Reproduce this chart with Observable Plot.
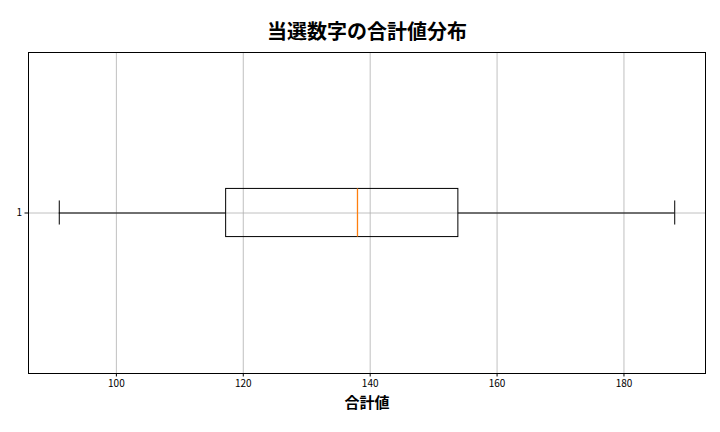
<!DOCTYPE html>
<html>
<head>
<meta charset="utf-8">
<script src="https://cdn.jsdelivr.net/npm/d3@7"></script>
<script src="https://cdn.jsdelivr.net/npm/@observablehq/plot@0.6"></script>
<style>
  html, body { margin: 0; padding: 0; background: #fff; }
</style>
</head>
<body>
<div id="chart"></div>
<script>
const title = "当選数字の合計値分布";
const xLabel = "合計値";
const categories = [1];
const categoryLabels = ["1"];
const whiskerLow = [91];
const q1 = [117.3];
const median = [138];
const q3 = [153.9];
const whiskerHigh = [188];
const xTicks = [100, 120, 140, 160, 180];

const boxes = categories.map((c, i) => ({
  cat: c, low: whiskerLow[i], q1: q1[i], med: median[i], q3: q3[i], high: whiskerHigh[i]
}));

const halfBox = 0.075;   // matplotlib default box width 0.15
const halfCap = 0.0375;

const chart = Plot.plot({
  width: 720,
  height: 432,
  marginLeft: 28,
  marginRight: 15,
  marginTop: 52,
  marginBottom: 59,
  style: { fontFamily: "'Noto Sans CJK JP', 'Noto Sans', sans-serif", background: "#fff", color: "#000" },
  x: { domain: [86.15, 192.85] },
  y: { domain: [0.5, 1.5] },
  marks: [
    Plot.gridX(xTicks, { stroke: "#b0b0b0", strokeOpacity: 1, strokeWidth: 0.8 }),
    Plot.gridY(categories, { stroke: "#b0b0b0", strokeOpacity: 1, strokeWidth: 0.8 }),
    Plot.axisX({ ticks: xTicks, tickSize: 3.5, fontSize: 10, label: null, tickPadding: 3 }),
    Plot.axisY({ ticks: categories, tickFormat: (d, i) => categoryLabels[i], tickSize: 3.5, fontSize: 10, label: null, tickPadding: 3 }),
    // whiskers
    Plot.ruleY(boxes, { y: "cat", x1: "low", x2: "q1", stroke: "black", strokeWidth: 1 }),
    Plot.ruleY(boxes, { y: "cat", x1: "q3", x2: "high", stroke: "black", strokeWidth: 1 }),
    // caps
    Plot.ruleX(boxes, { x: "low", y1: d => d.cat - halfCap, y2: d => d.cat + halfCap, stroke: "black", strokeWidth: 1 }),
    Plot.ruleX(boxes, { x: "high", y1: d => d.cat - halfCap, y2: d => d.cat + halfCap, stroke: "black", strokeWidth: 1 }),
    // box
    Plot.rect(boxes, { x1: "q1", x2: "q3", y1: d => d.cat - halfBox, y2: d => d.cat + halfBox, fill: "none", stroke: "black", strokeWidth: 1 }),
    // median
    Plot.ruleX(boxes, { x: "med", y1: d => d.cat - halfBox, y2: d => d.cat + halfBox, stroke: "#ff7f0e", strokeWidth: 1.3 }),
    Plot.frame({ stroke: "#000", strokeWidth: 1 }),
    Plot.text([title], { frameAnchor: "top", dy: -28, fontSize: 20, fontWeight: "bold", fill: "#000" }),
    Plot.text([xLabel], { frameAnchor: "bottom", dy: 34, fontSize: 15, fontWeight: "bold", fill: "#000" })
  ]
});
document.getElementById("chart").appendChild(chart);
</script>
</body>
</html>
